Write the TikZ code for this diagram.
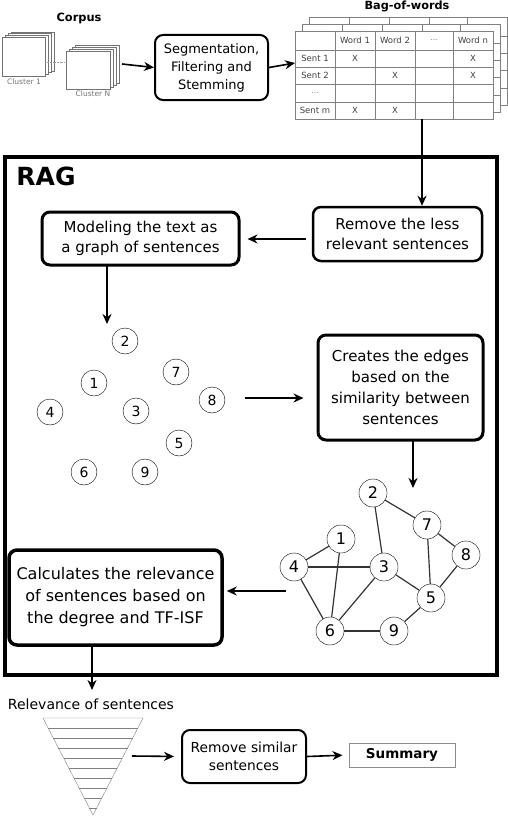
\documentclass[tikz,border=0pt]{standalone}
\usepackage{fontspec}
\setmainfont{DejaVu Sans}
\usetikzlibrary{arrows.meta}
\begin{document}
\begin{tikzpicture}[x=1pt,y=-1pt,
 box/.style={draw,rounded corners=8pt,line width=2.5pt,align=center,inner sep=2pt},
 sent/.style={draw,circle,minimum size=26pt,inner sep=0pt,font=\fontsize{14}{14}\selectfont},
 gsent/.style={draw,circle,minimum size=28pt,inner sep=0pt,fill=white,font=\fontsize{16}{16}\selectfont},
 flow/.style={-{Stealth[length=10pt,width=9pt]},line width=1.6pt},
 cell/.style={font=\fontsize{8.5}{8.5}\selectfont,text=black!75},
 tiny/.style={font=\fontsize{7.5}{7.5}\selectfont,text=black!55}]
 \useasboundingbox (0,0) rectangle (508,816);
 % Corpus
 \node[font=\bfseries\fontsize{11.4}{11.4}\selectfont] (corpus) at (79,18) {Corpus};
 \foreach \k in {3,2,1,0} \draw[black!55,fill=white] ({2+3*\k},{37-1.7*\k}) rectangle ({45+3*\k},{76-1.7*\k});
 \foreach \k in {3,2,1,0} \draw[black!55,fill=white] ({66+3*\k},{51-2*\k}) rectangle ({110+3*\k},{89-2*\k});
 \draw[black!40,densely dotted] (47,62)--(64,62);
 \node[tiny] (cl1) at (24,82) {Cluster 1};
 \node[tiny] (clN) at (93,94) {Cluster N};
 \coordinate (corpE) at (122,64);
 % preprocessing
 \node[box,line width=2pt,minimum width=113pt,minimum height=65pt,font=\fontsize{13}{18}\selectfont] (seg) at (211.5,67.5) {Segmentation,\\Filtering and\\Stemming};
 % Bag-of-words
 \node[font=\bfseries\fontsize{11.3}{11.3}\selectfont] (bow) at (407,6) {Bag-of-words};
 \foreach \d in {14,7,0}{
  \begin{scope}[shift={(\d,-\d)}]
   \fill[white] (295,31) rectangle (493,119);
   \foreach \c in {335,375,415,453} \draw[black!50] (\c,31)--(\c,119);
   \foreach \r in {50,67,84,102} \draw[black!50] (295,\r)--(493,\r);
   \draw[black!50] (295,31) rectangle (493,119);
  \end{scope}}
 \node[cell] at (355,40.5) {Word 1};
 \node[cell] at (395,40.5) {Word 2};
 \node[tiny] at (434,40.5) {...};
 \node[cell] at (473,40.5) {Word n};
 \node[cell] at (315,58.5) {Sent 1};
 \node[cell] at (315,75.5) {Sent 2};
 \node[tiny] at (315,93) {...};
 \node[cell] at (315,110.5) {Sent m};
 \node[cell] at (355,58.5) {X};
 \node[cell] at (473,58.5) {X};
 \node[cell] at (395,75.5) {X};
 \node[cell] at (473,75.5) {X};
 \node[cell] at (355,110.5) {X};
 \node[cell] at (395,110.5) {X};
 \coordinate (bowW) at (295,63);
 \coordinate (bowS) at (422,119);
 \draw[flow] (corpE)--(seg.west);
 \draw[flow] (seg.east)--(bowW);
 % RAG
 \draw[line width=4pt] (5,157) rectangle (497,675);
 \node[font=\bfseries\fontsize{25}{25}\selectfont] (rag) at (46,176) {RAG};
 \node[box,minimum width=169pt,minimum height=54pt,font=\fontsize{15}{20}\selectfont] (rem) at (397.5,234) {Remove the less\\relevant sentences};
 \node[box,line width=3pt,minimum width=197pt,minimum height=53pt,font=\fontsize{15}{20}\selectfont] (mod) at (140.5,238.5) {Modeling the text as\\a graph of sentences};
 \node[box,line width=3pt,minimum width=165pt,minimum height=105pt,font=\fontsize{15}{21}\selectfont] (cre) at (400.5,387.5) {Creates the edges\\based on the\\similarity between\\sentences};
 \node[box,line width=3.5pt,minimum width=213pt,minimum height=95pt,font=\fontsize{16}{22}\selectfont] (calc) at (115.5,597.5) {Calculates the relevance\\of sentences based on\\the degree and TF-ISF};
 \draw[flow] (bowS)--(bowS |- rem.north);
 \draw[flow,shorten <=6pt,shorten >=7pt] (rem.west |- 0,239)--(mod.east |- 0,239);
 % sentences without edges
 \node[sent] (a2) at (125,341) {2};
 \node[sent] (a7) at (176,372) {7};
 \node[sent] (a1) at (94,383) {1};
 \node[sent] (a8) at (212,400) {8};
 \node[sent] (a4) at (50,412) {4};
 \node[sent] (a3) at (136,411) {3};
 \node[sent] (a5) at (179,443) {5};
 \node[sent] (a6) at (84,472) {6};
 \node[sent] (a9) at (145,472) {9};
 \coordinate (modS) at (107,266);
 \coordinate (scatN) at (107,324);
 \draw[flow] (modS)--(scatN);
 \coordinate (scatE) at (245,398);
 \draw[flow,shorten >=13pt] (scatE)--(scatE -| cre.west);
 % graph of sentences
 \node[gsent] (b2) at (373,493) {2};
 \node[gsent] (b7) at (427,525) {7};
 \node[gsent] (b1) at (341,539) {1};
 \node[gsent] (b8) at (466,555) {8};
 \node[gsent] (b4) at (294,567) {4};
 \node[gsent] (b3) at (384,567) {3};
 \node[gsent] (b5) at (431,598) {5};
 \node[gsent] (b6) at (330,631) {6};
 \node[gsent] (b9) at (394,631) {9};
 \foreach \u/\v in {b2/b7,b2/b3,b7/b8,b7/b5,b8/b5,b1/b4,b1/b6,b4/b3,b4/b6,b3/b6,b3/b5,b5/b9,b6/b9}
  \draw[line width=1.2pt,black!80] (\u)--(\v);
 \coordinate (creS) at (413,440);
 \coordinate (grN) at (413,488);
 \draw[flow] (creS)--(grN);
 \coordinate (grW) at (286,591);
 \draw[flow,shorten >=3pt] (grW)--(grW -| calc.east);
 % after RAG
 \coordinate (relN) at (92,690);
 \draw[flow] (relN |- calc.south)--(relN);
 \node[font=\fontsize{14}{14}\selectfont] (rel) at (91,704) {Relevance of sentences};
 \draw[black!50] (43,718)--(143,718)--(93,815)--cycle;
 \foreach \k in {1,...,9} \draw[black!50] ({93-50*(97-10*\k)/97},{718+10*\k})--({93+50*(97-10*\k)/97},{718+10*\k});
 \node[box,line width=2pt,minimum width=124pt,minimum height=53pt,font=\fontsize{13.8}{18}\selectfont] (rsim) at (244,756.5) {Remove similar\\sentences};
 \node[draw=black!45,line width=1pt,minimum width=106pt,minimum height=24pt,font=\bfseries\fontsize{13.5}{13.5}\selectfont] (sum) at (402,755) {Summary};
 \coordinate (triE) at (132,756);
 \draw[flow,shorten >=7pt] (triE)--(rsim.west);
 \draw[flow,shorten >=6pt] (rsim.east)--(sum.west);
\end{tikzpicture}
\end{document}
